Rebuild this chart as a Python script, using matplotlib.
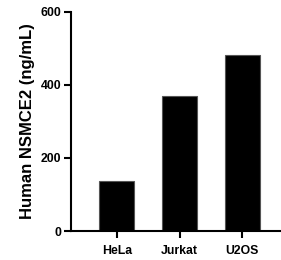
import matplotlib
matplotlib.use("Agg")
import matplotlib.pyplot as plt

cell_lines = ["HeLa", "Jurkat", "U2OS"]
nsmce2 = [137, 370, 482]
y_ticks = [0, 200, 400, 600]

plt.rcParams['font.family'] = ['Liberation Sans', 'DejaVu Sans']
plt.rcParams['font.weight'] = 'bold'

fig = plt.figure(figsize=(2.81, 2.60), dpi=100)
ax = fig.add_axes([71/281, 29/260, 209/281, 219/260])

ax.bar(range(len(cell_lines)), nsmce2, width=0.56, color='black',
       edgecolor='#555555', linewidth=0.8)

ax.set_ylim(0, 600)
ax.set_xlim(-0.73, 2.6)
ax.set_yticks(y_ticks)
ax.set_xticks(range(len(cell_lines)))
ax.set_xticklabels(cell_lines, fontsize=8.8, fontweight='bold')
ax.set_yticklabels([str(t) for t in y_ticks], fontsize=8.8, fontweight='bold')
ax.set_ylabel('Human NSMCE2 (ng/mL)', fontsize=12, fontweight='bold', labelpad=4)

for s in ['top', 'right']:
    ax.spines[s].set_visible(False)
for s in ['left', 'bottom']:
    ax.spines[s].set_linewidth(1.5)
ax.tick_params(width=1.5, length=5, pad=2)
ax.tick_params(axis='x', pad=5)

fig.savefig("out.png", dpi=100)
